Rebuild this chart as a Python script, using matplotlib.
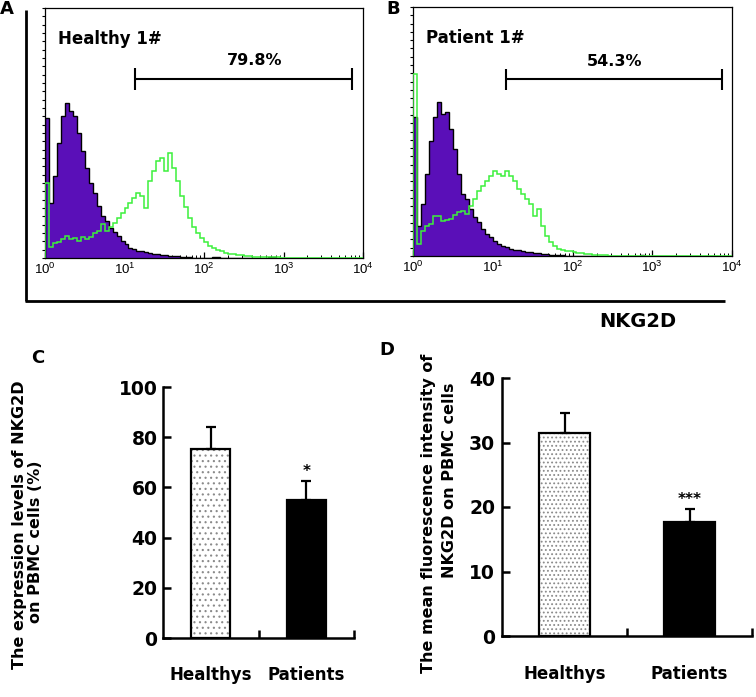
import numpy as np
import matplotlib
matplotlib.use('Agg')
import matplotlib.pyplot as plt
from matplotlib.lines import Line2D
from matplotlib.ticker import LogLocator, NullFormatter, FixedLocator, FixedFormatter

W, H = 756, 697
plt.rcParams['font.family'] = ['DejaVu Sans']
plt.rcParams['mathtext.fontset'] = 'custom'
plt.rcParams['mathtext.rm'] = 'Liberation Sans'
plt.rcParams['mathtext.it'] = 'Liberation Sans'
plt.rcParams['mathtext.bf'] = 'Liberation Sans:bold'
plt.rcParams['hatch.linewidth'] = 0.8

# ---------------- data ----------------
# flow-cytometry histograms: counts (% of max scale) in log-spaced bins, 0.05 decade wide, 10^0..10^4
bin_width_decades = 0.05
n_bins = 80
healthy_isotype = [56, 22, 33, 46, 57, 62, 59, 57, 50, 43,
                   36, 30, 26, 21, 17, 15, 12, 10.5, 8.8, 7,
                   5.6, 4.2, 3.6, 3.0, 2.8, 2.4, 2.1, 1.8, 1.6, 1.3,
                   1.1, 1.0, 0.9, 0.7, 0.5, 0.4, 0.3, 0.2, 0.2, 0.1,
                   0.2, 0.1, 0.3, 0.4, 0.1, 0, 0, 0, 0, 0,
                   0, 0, 0, 0, 0, 0, 0.5, 0.6, 0, 0,
                   0, 0, 0, 0, 0, 0, 0, 0, 0, 0,
                   0, 0, 0, 0, 0, 0, 0, 0, 0, 0]
healthy_nkg2d = [30, 4.5, 6, 6.5, 7.5, 9, 7.5, 8, 7, 8.5,
                 7.5, 8.5, 10, 11, 13.5, 11, 12.5, 14, 16, 18,
                 20, 22, 24, 26, 25, 20, 31, 35, 39, 40,
                 35, 42, 36, 31, 25, 20.5, 16, 12.5, 10, 8,
                 6.5, 5, 4, 3.2, 2.8, 2.2, 1.8, 1.6, 1.3, 1.1,
                 1.0, 0.7, 0.5, 0.4, 0.4, 0.3, 0.5, 0.6, 0.3, 0.2,
                 0.2, 0.1, 0.1, 0.1, 0.1, 0.1, 0.1, 0.1, 0.1, 0.1,
                 0.1, 0.1, 0.1, 0.1, 0.1, 0.1, 0.1, 0.1, 0.1, 0.1]
patient_isotype = [56, 12, 21, 33, 46, 56, 62, 57, 58, 51,
                   43, 33, 25, 23, 19, 15.5, 13.5, 11, 9, 7.5,
                   6, 5, 4, 3.6, 3, 2.6, 2.3, 2.0, 1.8, 1.7,
                   1.4, 1.1, 0.9, 0.8, 0.6, 0.5, 0.4, 0.3, 0.2, 0.2,
                   0.1, 0.1, 0.1, 0.1, 0, 0, 0, 0, 0, 0,
                   0, 0, 0, 0, 0, 0, 0, 0.5, 0, 0,
                   0, 0, 0, 0, 0, 0, 0, 0, 0, 0,
                   0, 0, 0, 0, 0, 0, 0, 0, 0, 0]
patient_nkg2d = [73, 5, 10, 12, 13, 16, 16, 14, 14.5, 15,
                 16.5, 17.5, 18, 17, 20, 23, 26, 28, 30, 32,
                 34, 33, 32, 34, 32, 30, 27, 25, 23, 21,
                 16, 19, 12, 8, 5.5, 4, 3, 2.6, 2.2, 1.9,
                 1.5, 1.3, 1.1, 0.9, 0.8, 0.6, 0.5, 0.4, 0.3, 0.2,
                 0.2, 0.2, 0.1, 0.1, 0.1, 0.1, 0.1, 0.1, 0.1, 0.1,
                 0.1, 0.1, 0.1, 0.1, 0.1, 0.1, 0.1, 0.1, 0.1, 0.1,
                 0.1, 0.1, 0.1, 0.1, 0.1, 0.1, 0.1, 0.1, 0.1, 0.1]

hist_titles = ['Healthy 1#', 'Patient 1#']
gate_left = [13.4, 14.6]
gate_right = [7190, 7570]
gate_level = [71.7, 70.9]
gate_labels = ['79.8%', '54.3%']
gate_label_x = [437, 340]
log_tick_values = [1, 10, 100, 1000, 10000]
log_tick_labels = ['$10^{0}$', '$10^{1}$', '$10^{2}$', '$10^{3}$', '$10^{4}$']

groups = ['Healthys', 'Patients']
expr_mean = [75.2, 55.0]
expr_sem = [8.9, 7.6]
expr_sig = ['', '*']
mfi_mean = [31.4, 17.7]
mfi_sem = [3.2, 2.0]
mfi_sig = ['', '***']

# ---------------- figure ----------------
fig = plt.figure(figsize=(W / 100, H / 100), dpi=100)


def rect(x0, y0, x1, y1):
    return [x0 / W, 1 - y1 / H, (x1 - x0) / W, (y1 - y0) / H]


PURPLE = '#5a0fb8'
GREEN = '#3cf03c'
edges = 10 ** (np.arange(n_bins + 1) * bin_width_decades)


def histo(ax, iso, pos, title, gl, gr, gy, glab, glx):
    ax.stairs(iso, edges, fill=True, color=PURPLE, zorder=2)
    ax.stairs(iso, edges, color='black', lw=1.0, zorder=3)
    ax.stairs(pos, edges, color=GREEN, lw=1.1, zorder=4)
    ax.set_xscale('log')
    ax.set_xlim(1, 1e4)
    ax.set_ylim(0, 100)
    for s in ax.spines.values():
        s.set_linewidth(0.9)
    ax.xaxis.set_major_locator(FixedLocator(log_tick_values))
    ax.xaxis.set_major_formatter(FixedFormatter(log_tick_labels))
    ax.xaxis.set_minor_locator(LogLocator(base=10, subs=np.arange(2, 10)))
    ax.xaxis.set_minor_formatter(NullFormatter())
    ax.tick_params(axis='x', which='major', direction='in', length=4, width=0.9,
                   labelsize=9.5, pad=3)
    ax.tick_params(axis='x', which='minor', direction='in', length=2.2, width=0.7)
    ax.set_yticks(np.linspace(0, 100, 31))
    ax.set_yticklabels([])
    ax.tick_params(axis='y', which='major', direction='out', length=2.5, width=0.8)
    ax.text(0.04, 0.875, title, transform=ax.transAxes, fontsize=12,
            fontweight='bold', va='center', ha='left')
    ax.hlines(gy, gl, gr, colors='black', lw=1.5, zorder=5)
    ax.vlines([gl, gr], gy - 4.3, gy + 4.3, colors='black', lw=1.5, zorder=5)
    ax.text(glx, gy + 7.2, glab, fontsize=11.5, fontweight='bold',
            ha='center', va='center')


axA = fig.add_axes(rect(45, 8, 363, 258))
histo(axA, healthy_isotype, healthy_nkg2d, hist_titles[0], gate_left[0], gate_right[0],
      gate_level[0], gate_labels[0], gate_label_x[0])
axB = fig.add_axes(rect(413, 7, 732, 256))
histo(axB, patient_isotype, patient_nkg2d, hist_titles[1], gate_left[1], gate_right[1],
      gate_level[1], gate_labels[1], gate_label_x[1])

# frame lines around the histogram panels
fig.add_artist(Line2D([26 / W, 26 / W], [1 - 10 / H, 1 - 301 / H], color='black', lw=2,
                      solid_capstyle='butt'))
fig.add_artist(Line2D([25 / W, 725 / W], [1 - 301 / H, 1 - 301 / H], color='black', lw=2,
                      solid_capstyle='butt'))
fig.text(638 / W, 1 - 322 / H, 'NKG2D', fontsize=14, fontweight='bold', ha='center', va='center')


def barpanel(ax, means, sems, sigs, ymax, ystep, hatch, star_off, ypad, xpad):
    x = np.array([0.5, 1.5])
    ax.bar(x[:1], means[:1], width=0.41, color='white', edgecolor='#8a8a8a', hatch=hatch,
           linewidth=0, zorder=2)
    ax.bar(x[:1], means[:1], width=0.41, fill=False, edgecolor='black', linewidth=1.6, zorder=3)
    ax.bar(x[1:], means[1:], width=0.41, color='black', edgecolor='black', linewidth=1.6, zorder=3)
    ax.errorbar(x, means, yerr=[[0, 0], sems], fmt='none', ecolor='black', elinewidth=1.6,
                capsize=3.6, capthick=1.6, zorder=4)
    for xi, m, s, sg in zip(x, means, sems, sigs):
        if sg:
            ax.annotate(sg, (xi, m + s), xytext=(0, star_off), textcoords='offset points',
                        ha='center', va='center', fontsize=11, fontweight='bold')
    ax.set_xlim(0, 2)
    ax.set_ylim(0, ymax)
    for k in ['top', 'right']:
        ax.spines[k].set_visible(False)
    for k in ['left', 'bottom']:
        ax.spines[k].set_linewidth(1.8)
    ax.set_yticks(np.arange(0, ymax + 0.1, ystep))
    ax.tick_params(axis='y', direction='in', length=6, width=1.8, labelsize=13.5, pad=ypad)
    for lab in ax.get_yticklabels():
        lab.set_fontweight('bold')
    ax.set_xticks([1, 2])
    ax.set_xticklabels([])
    ax.set_xticks(x, minor=True)
    ax.set_xticklabels(groups, minor=True, fontsize=12, fontweight='bold')
    ax.tick_params(axis='x', which='major', direction='in', length=6, width=1.8)
    ax.tick_params(axis='x', which='minor', length=0, pad=xpad)


axC = fig.add_axes(rect(163, 387, 354, 638))
barpanel(axC, expr_mean, expr_sem, expr_sig, 100, 20, '...', 7, 4, 20)
axD = fig.add_axes(rect(502, 378, 752, 636))
barpanel(axD, mfi_mean, mfi_sem, mfi_sig, 40, 10, '....', 7, 5, 21)

fig.text(20 / W, 1 - 525 / H, 'The expression levels of NKG2D', rotation=90, fontsize=11.5,
         fontweight='bold', ha='center', va='center')
fig.text(36 / W, 1 - 542 / H, 'on PBMC cells (%)', rotation=90, fontsize=11.5,
         fontweight='bold', ha='center', va='center')
fig.text(428 / W, 1 - 513 / H, 'The mean fluorescence intensity of', rotation=90, fontsize=11.5,
         fontweight='bold', ha='center', va='center')
fig.text(449 / W, 1 - 480 / H, 'NKG2D on PBMC cells', rotation=90, fontsize=11.5,
         fontweight='bold', ha='center', va='center')

for lab, (px, py) in zip(['A', 'B', 'C', 'D'], [(7, 9), (393, 9), (37.5, 358), (387, 350)]):
    fig.text(px / W, 1 - py / H, lab, fontsize=13, fontweight='bold', ha='center', va='center')

fig.savefig('out.png', dpi=100)
